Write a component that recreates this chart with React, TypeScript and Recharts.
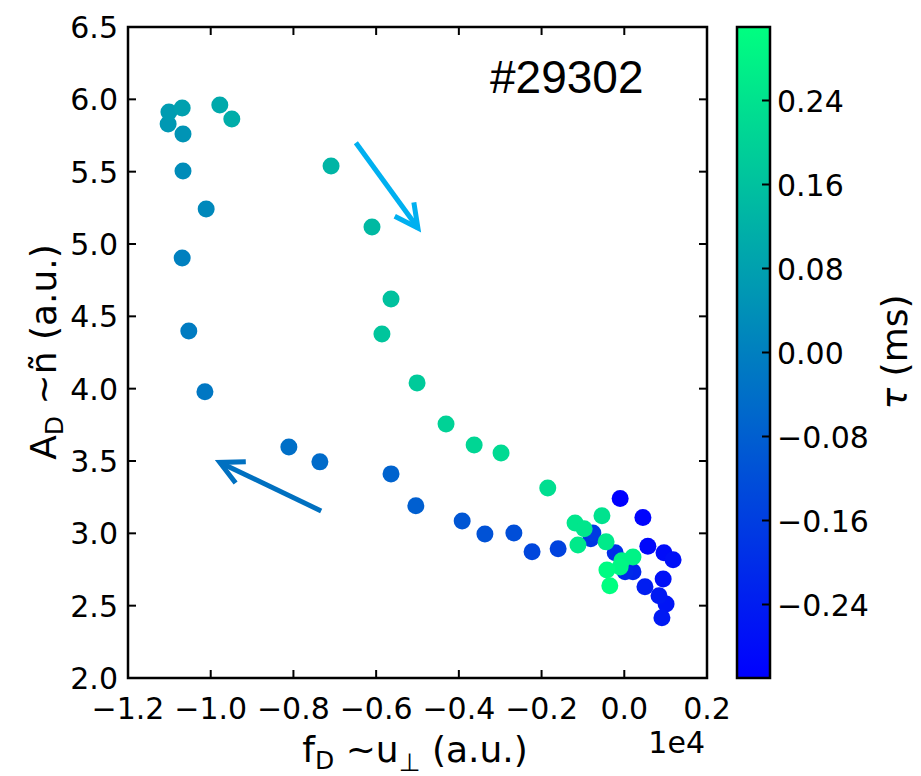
import React from "react"
import { ScatterChart, Scatter, XAxis, YAxis, Cell, ReferenceArea, ReferenceLine } from "recharts"

// f_D in units of 1e4, A_D, and tau (ms), in time order
const FD = [
  -0.010, 0.045, 0.057, 0.096, 0.118, 0.094, 0.101, 0.091, 0.084, 0.050,
  0.021, 0.002, -0.022, -0.081, -0.076, -0.160, -0.223, -0.267, -0.337, -0.392,
  -0.504, -0.564, -0.736, -0.811, -1.014, -1.053, -1.069, -1.011, -1.067, -1.067,
  -1.103, -1.101, -1.069, -0.978, -0.949, -0.709, -0.610, -0.564, -0.586, -0.501,
  -0.431, -0.363, -0.298, -0.185, -0.054, -0.119, -0.097, -0.112, -0.044, -0.006,
  0.021, -0.010, -0.042, -0.035,
]
const AD = [
  3.24, 3.11, 2.91, 2.865, 2.817, 2.685, 2.512, 2.416, 2.568, 2.63,
  2.734, 2.734, 2.865, 2.962, 3.003, 2.893, 2.872, 3.003, 2.996, 3.086,
  3.19, 3.411, 3.494, 3.597, 3.978, 4.399, 4.904, 5.242, 5.505, 5.761,
  5.83, 5.913, 5.94, 5.961, 5.864, 5.539, 5.118, 4.62, 4.378, 4.04,
  3.756, 3.611, 3.556, 3.314, 3.121, 3.072, 3.031, 2.92, 2.941, 2.81,
  2.837, 2.768, 2.747, 2.637,
]
const TAU = [
  -0.31, -0.30, -0.29, -0.28, -0.27, -0.27, -0.26, -0.25, -0.25, -0.24,
  -0.22, -0.21, -0.20, -0.18, -0.17, -0.15, -0.14, -0.12, -0.11, -0.10,
  -0.08, -0.07, -0.05, -0.04, -0.02, -0.01, 0.0, 0.02, 0.03, 0.05,
  0.06, 0.07, 0.08, 0.10, 0.11, 0.13, 0.14, 0.16, 0.17, 0.18,
  0.20, 0.21, 0.22, 0.23, 0.24, 0.25, 0.25, 0.26, 0.26, 0.28,
  0.28, 0.29, 0.30, 0.31,
]

const X_TICKS = [-1.2, -1.0, -0.8, -0.6, -0.4, -0.2, 0.0, 0.2]
const Y_TICKS = [2.0, 2.5, 3.0, 3.5, 4.0, 4.5, 5.0, 5.5, 6.0, 6.5]
const CB_TICKS = [-0.24, -0.16, -0.08, 0.0, 0.08, 0.16, 0.24]
const TAU_MIN = -0.31
const TAU_MAX = 0.31

// arrows drawn on the figure (data coords)
const ARROW_DOWN = [{ x: -0.649, y: 5.7 }, { x: -0.499, y: 5.11 }]
const ARROW_UP = [{ x: -0.733, y: 3.155 }, { x: -0.978, y: 3.49 }]

const W = 921
const H = 776
const PLOT = { left: 128, top: 27, right: 707, bottom: 678 }
const CB = { left: 737, right: 770, top: 27, bottom: 678 }
const FONT = "'DejaVu Sans', sans-serif"
const LABEL_SIZE = 36
const SUB_SIZE = 25

const winter = (tau: number) => {
  const t = Math.max(0, Math.min(1, (tau - TAU_MIN) / (TAU_MAX - TAU_MIN)))
  const g = Math.round(255 * t)
  const b = Math.round(255 - 127.5 * t)
  return `rgb(0,${g},${b})`
}

const fmt = (v: number, d: number) => (v < -1e-9 ? "\u2212" : "") + Math.abs(v).toFixed(d)

const points = FD.map((x, i) => ({ x, y: AD[i], tau: TAU[i] }))

const XTick = (props: any) => {
  const { x, payload } = props
  const cx = payload.coordinate ?? x
  return (
    <g>
      <line x1={cx} x2={cx} y1={PLOT.bottom} y2={PLOT.bottom - 8} stroke="#000" strokeWidth={2} />
      <line x1={cx} x2={cx} y1={PLOT.top} y2={PLOT.top + 8} stroke="#000" strokeWidth={2} />
      <text x={cx} y={PLOT.bottom + 41} textAnchor="middle" fontFamily={FONT} fontSize={30} fill="#000">
        {fmt(payload.value, 1)}
      </text>
    </g>
  )
}

const YTick = (props: any) => {
  const { y, payload } = props
  const cy = payload.coordinate ?? y
  return (
    <g>
      <line x1={PLOT.left} x2={PLOT.left + 8} y1={cy} y2={cy} stroke="#000" strokeWidth={2} />
      <line x1={PLOT.right} x2={PLOT.right - 8} y1={cy} y2={cy} stroke="#000" strokeWidth={2} />
      <text x={PLOT.left - 10} y={cy + 11} textAnchor="end" fontFamily={FONT} fontSize={30} fill="#000">
        {fmt(payload.value, 1)}
      </text>
    </g>
  )
}

const Dot = (props: any) => {
  const { cx, cy, payload, fill } = props
  const color = payload && payload.tau !== undefined ? winter(payload.tau) : fill
  return <circle cx={cx} cy={cy} r={8.5} fill={color} />
}

const makeArrow = (color: string) => (props: any) => {
  const { x1, y1, x2, y2 } = props
  const ang = Math.atan2(y2 - y1, x2 - x1)
  const len = 26
  const spread = (27 * Math.PI) / 180
  const ax = x2 - len * Math.cos(ang - spread)
  const ay = y2 - len * Math.sin(ang - spread)
  const bx = x2 - len * Math.cos(ang + spread)
  const by = y2 - len * Math.sin(ang + spread)
  return (
    <g>
      <line x1={x1} y1={y1} x2={x2} y2={y2} stroke={color} strokeWidth={5} />
      <polyline
        points={`${ax},${ay} ${x2},${y2} ${bx},${by}`}
        fill="none"
        stroke={color}
        strokeWidth={5}
        strokeLinejoin="miter"
      />
    </g>
  )
}

const cbY = (v: number) => CB.top + ((TAU_MAX - v) / (TAU_MAX - TAU_MIN)) * (CB.bottom - CB.top)

export default function App() {
  return (
    <div style={{ position: "absolute", left: 0, top: 0, width: W, height: H, background: "#fff" }}>
      <ScatterChart width={W} height={H} margin={{ top: 27, right: 214, bottom: 48, left: 68 }}>
        <XAxis
          type="number"
          dataKey="x"
          domain={[-1.2, 0.2]}
          ticks={X_TICKS}
          interval={0}
          allowDataOverflow
          axisLine={false}
          tickLine={false}
          tickSize={0}
          tickMargin={0}
          height={50}
          tick={<XTick />}
        />
        <YAxis
          type="number"
          dataKey="y"
          domain={[2.0, 6.5]}
          ticks={Y_TICKS}
          interval={0}
          allowDataOverflow
          axisLine={false}
          tickLine={false}
          tickSize={0}
          tickMargin={0}
          width={60}
          tick={<YTick />}
        />
        <Scatter data={points} isAnimationActive={false} shape={<Dot />}>
          {points.map((p, i) => (
            <Cell key={`pt-${i}`} fill={winter(p.tau)} />
          ))}
        </Scatter>
        <ReferenceLine segment={ARROW_DOWN} ifOverflow="visible" shape={makeArrow("#00B0F0")} />
        <ReferenceLine segment={ARROW_UP} ifOverflow="visible" shape={makeArrow("#0070C0")} />
        <ReferenceArea
          x1={-1.2}
          x2={0.2}
          y1={2.0}
          y2={6.5}
          fill="none"
          stroke="#000"
          strokeWidth={2.5}
          ifOverflow="visible"
        />
      </ScatterChart>

      <svg
        width={W}
        height={H}
        style={{ position: "absolute", left: 0, top: 0, pointerEvents: "none" }}
      >
        <defs>
          <linearGradient id="winter" x1="0" y1="0" x2="0" y2="1">
            <stop offset="0%" stopColor={winter(TAU_MAX)} />
            <stop offset="100%" stopColor={winter(TAU_MIN)} />
          </linearGradient>
        </defs>
        <rect
          x={CB.left}
          y={CB.top}
          width={CB.right - CB.left}
          height={CB.bottom - CB.top}
          fill="url(#winter)"
          stroke="#000"
          strokeWidth={2.5}
        />
        {CB_TICKS.map((v) => (
          <g key={`cb-${v}`}>
            <line x1={CB.right} x2={CB.right - 8} y1={cbY(v)} y2={cbY(v)} stroke="#000" strokeWidth={2} />
            <text x={CB.right + 7} y={cbY(v) + 11} fontFamily={FONT} fontSize={30} fill="#000">
              {fmt(v, 2)}
            </text>
          </g>
        ))}
        <text
          x={907}
          y={352}
          transform="rotate(-90, 907, 352)"
          textAnchor="middle"
          fontFamily={FONT}
          fontSize={LABEL_SIZE}
          fill="#000"
        >
          <tspan fontStyle="italic">τ</tspan> (ms)
        </text>

        <text
          x={56}
          y={352}
          transform="rotate(-90, 56, 352)"
          textAnchor="middle"
          fontFamily={FONT}
          fontSize={LABEL_SIZE}
          fill="#000"
        >
          A<tspan fontSize={SUB_SIZE} dy={7}>D</tspan>
          <tspan dy={-7}> ~ñ (a.u.)</tspan>
        </text>

        <text x={415} y={762} textAnchor="middle" fontFamily={FONT} fontSize={LABEL_SIZE} fill="#000">
          f<tspan fontSize={SUB_SIZE} dy={7}>D</tspan>
          <tspan dy={-7}> ~u</tspan>
          <tspan fontSize={SUB_SIZE} dy={9}>⊥</tspan>
          <tspan dy={-9}> (a.u.)</tspan>
        </text>
        <text x={705} y={753} textAnchor="end" fontFamily={FONT} fontSize={30} fill="#000">
          1e4
        </text>

        <text x={490} y={93} fontFamily="'Liberation Sans', Arial, sans-serif" fontSize={46} fill="#000">
          #29302
        </text>
      </svg>
    </div>
  )
}
